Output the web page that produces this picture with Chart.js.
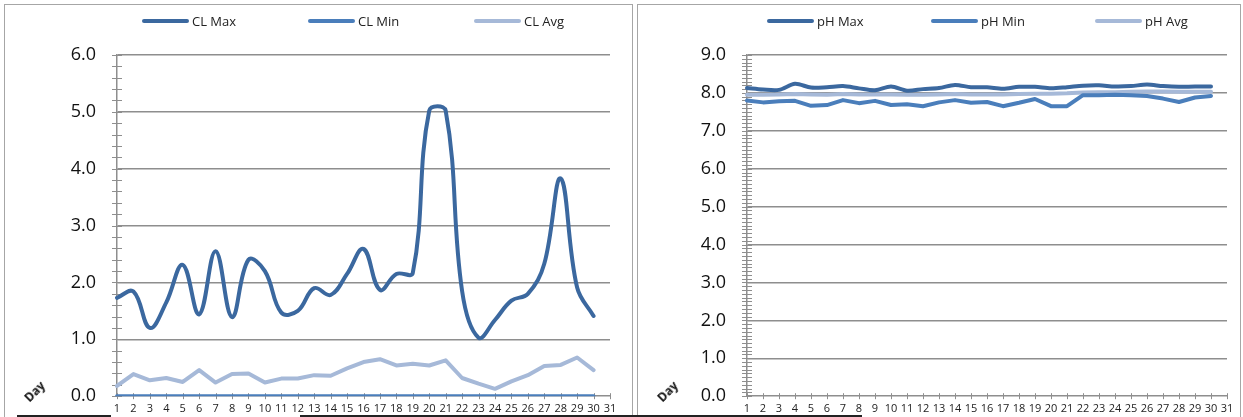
<!DOCTYPE html>
<html>
<head>
<meta charset="utf-8">
<script src="https://cdn.jsdelivr.net/npm/chart.js@4"></script>
<style>
  body { margin: 0; width: 1243px; height: 417px; background: #fff; position: relative; overflow: hidden;
         font-family: "Open Sans", sans-serif; }
  .panel { position: absolute; border: 1.5px solid #a6a6a6; border-bottom: none; box-sizing: border-box; }
  canvas { position: absolute; }
  .legend-item { position: absolute; top: 12px; height: 18px; display: flex; align-items: center;
                 font-size: 13px; color: #222; white-space: nowrap; }
  .legend-item i { display: inline-block; width: 47px; height: 4px; border-radius: 2px; margin-right: 3px; }
  .day { position: absolute; font-size: 12px; font-weight: bold; color: #111; transform: rotate(-45deg); }
  .baseline { position: absolute; height: 1.5px; background: #222; }
</style>
</head>
<body>
<div class="panel" style="left:4px; top:4px; width:629px; height:413px;"></div>
<div class="panel" style="left:637px; top:4px; width:604px; height:413px;"></div>
<div class="baseline" style="left:17px; top:415px; width:94px;"></div>
<div class="baseline" style="left:300px; top:415px; width:562px;"></div>
<canvas id="cl_chart" width="626" height="423" style="left:5px; top:5px;"></canvas>
<canvas id="ph_chart" width="602" height="423" style="left:638px; top:5px;"></canvas>
<div class="day" style="left:23px; top:383px;">Day</div>
<div class="day" style="left:656px; top:383px;">Day</div>
<div id="cl_legend"></div>
<div id="ph_legend"></div>
<script>
// tick labels along the bottom
const days = ['1','2','3','4','5','6','7','8','9','10','11','12','13','14','15','16',
              '17','18','19','20','21','22','23','24','25','26','27','28','29','30','31']

// chlorine readings, days 1..30
const cl_max = [1.73, 1.84, 1.20, 1.65, 2.31, 1.44, 2.55, 1.39, 2.40, 2.20, 1.47, 1.50, 1.90, 1.78, 2.15,
                2.59, 1.87, 2.15, 2.17, 5.02, 5.02, 1.85, 1.03, 1.34, 1.68, 1.80, 2.33, 3.83, 1.91, 1.41]
const cl_min = [0, 0, 0, 0, 0, 0, 0, 0, 0, 0, 0, 0, 0, 0, 0,
                0, 0, 0, 0, 0, 0, 0, 0, 0, 0, 0, 0, 0, 0, 0]
const cl_avg = [0.18, 0.39, 0.28, 0.32, 0.25, 0.46, 0.24, 0.39, 0.40, 0.24, 0.31, 0.31, 0.37, 0.36, 0.49,
                0.60, 0.65, 0.54, 0.57, 0.54, 0.63, 0.32, 0.22, 0.13, 0.26, 0.37, 0.53, 0.55, 0.68, 0.46]

// pH readings, days 1..30
const ph_max = [8.13, 8.09, 8.08, 8.24, 8.14, 8.15, 8.18, 8.12, 8.07, 8.17, 8.06, 8.10, 8.13, 8.21, 8.15,
                8.15, 8.11, 8.16, 8.16, 8.12, 8.15, 8.19, 8.20, 8.17, 8.18, 8.22, 8.18, 8.16, 8.17, 8.17]
const ph_min = [7.80, 7.75, 7.78, 7.79, 7.66, 7.68, 7.81, 7.73, 7.79, 7.68, 7.70, 7.65, 7.75, 7.81, 7.74,
                7.76, 7.65, 7.74, 7.84, 7.65, 7.65, 7.94, 7.94, 7.95, 7.94, 7.92, 7.85, 7.76, 7.88, 7.92]
const ph_avg = [7.95, 7.95, 7.96, 7.97, 7.96, 7.95, 7.97, 7.96, 7.96, 7.96, 7.95, 7.95, 7.96, 7.97, 7.96,
                7.96, 7.96, 7.97, 7.98, 7.98, 7.99, 8.01, 8.02, 8.02, 8.03, 8.04, 8.04, 8.03, 8.03, 8.03]

const DARK = '#3b689f', MID = '#4a7ebb', LIGHT = '#a6b9d8'
const GRID = '#8e8e8e'

// Excel-style minor ticks that cross the axes
const axisTicks = {
    id: 'axisTicks',
    beforeDatasetsDraw(chart, args, opts) {
        const {ctx, chartArea, scales: {x, y}} = chart
        ctx.save()
        ctx.strokeStyle = GRID
        ctx.lineWidth = 1
        ctx.beginPath()
        const n = Math.round((y.max - y.min) / opts.minor)
        for (let i = 0; i <= n; i++) {
            const py = Math.round(y.getPixelForValue(y.min + i * opts.minor)) + 0.5
            ctx.moveTo(chartArea.left - 5, py)
            ctx.lineTo(chartArea.left + 5, py)
        }
        for (let i = 0; i < x.ticks.length; i++) {
            const px = Math.round(x.getPixelForTick(i)) + 0.5
            ctx.moveTo(px, chartArea.bottom - 3)
            ctx.lineTo(px, chartArea.bottom + 3)
        }
        ctx.stroke()
        ctx.restore()
    }
}

function line(label, data, color, tension) {
    return {
        label: label, data: data, borderColor: color, backgroundColor: color,
        borderWidth: 4, pointRadius: 0, tension: tension,
        borderCapStyle: 'round', borderJoinStyle: 'round'
    }
}

function build_chart(id, datasets, max, minor, axisWidth, padRight, axisHeight) {
    return new Chart(document.getElementById(id), {
        type: 'line',
        data: { labels: days, datasets: datasets },
        plugins: [axisTicks],
        options: {
            responsive: false,
            animation: false,
            devicePixelRatio: 1,
            layout: { padding: { top: 50, right: padRight, left: 0, bottom: 0 } },
            plugins: {
                legend: { display: false },
                tooltip: { enabled: false },
                axisTicks: { minor: minor }
            },
            scales: {
                x: {
                    offset: false,
                    grid: { display: false, drawTicks: false },
                    border: { display: true, color: GRID, width: 1.5 },
                    ticks: { autoSkip: false, maxRotation: 0, padding: 6, color: '#222',
                             font: { family: 'Open Sans', size: 11 } },
                    afterFit: s => { s.height = axisHeight }
                },
                y: {
                    min: 0, max: max,
                    grid: { drawTicks: false, color: ctx => ctx.tick.value === 0 ? 'rgba(0,0,0,0)' : GRID, lineWidth: 1.5 },
                    border: { display: true, color: GRID, width: 1.5 },
                    ticks: { stepSize: 1, padding: 21, color: '#111',
                             font: { family: 'Open Sans', size: 18 },
                             callback: v => v.toFixed(1) },
                    afterFit: s => { s.width = axisWidth }
                }
            }
        }
    })
}

function build_legend(el_id, datasets, start, spacing) {
    const el = document.getElementById(el_id)
    datasets.forEach((ds, i) => {
        const item = document.createElement('div')
        item.className = 'legend-item'
        item.style.left = (start + i * spacing) + 'px'
        item.innerHTML = `<i style="background:${ds.borderColor}"></i>${ds.label}`
        el.appendChild(item)
    })
}

const cl_sets = [
    line('CL Max', cl_max, DARK, 0.4),
    line('CL Min', cl_min, MID, 0),
    line('CL Avg', cl_avg, LIGHT, 0)
]
const ph_sets = [
    line('pH Max', ph_max, DARK, 0.3),
    line('pH Min', ph_min, MID, 0),
    line('pH Avg', ph_avg, LIGHT, 0)
]

build_chart('cl_chart', cl_sets, 6, 0.2, 112, 21, 22)
build_chart('ph_chart', ph_sets, 9, 0.1, 109, 13, 22)
build_legend('cl_legend', cl_sets, 142, 166)
build_legend('ph_legend', ph_sets, 767, 164)
</script>
</body>
</html>
